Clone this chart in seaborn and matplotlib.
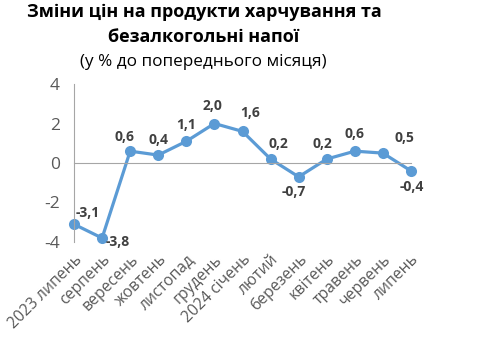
import matplotlib
matplotlib.use("Agg")
import matplotlib.pyplot as plt
import pandas as pd
import seaborn as sns

months = ['2023 липень', 'серпень', 'вересень', 'жовтень', 'листопад', 'грудень',
          '2024 січень', 'лютий', 'березень', 'квітень', 'травень', 'червень', 'липень']
values = [-3.1, -3.8, 0.6, 0.4, 1.1, 2.0, 1.6, 0.2, -0.7, 0.2, 0.6, 0.5, -0.4]

# label offsets in pixels (dx, dy), like excel put them
offsets = [(14, 11), (16, -4), (-6, 14), (0, 15), (0, 16), (-2, 18), (8, 18),
           (8, 15), (-5, -15), (-4, 15), (0, 17), (22, 15), (1, -16)]

df = pd.DataFrame({'month': months, 'value': values})
df['pos'] = range(len(df))

sns.set_style("white")
plt.rcParams['font.family'] = ['Open Sans', 'DejaVu Sans']

blue = '#5B9BD5'
grey = '#595959'

fig = plt.figure(figsize=(4.8, 3.53), dpi=100)
ax = fig.add_axes([74 / 480, 1 - 242 / 353, (411 - 74) / 480, (242 - 84) / 353])

sns.lineplot(data=df, x='pos', y='value', ax=ax, color=blue, linewidth=2.3,
             marker='o', markersize=8, markeredgewidth=0, clip_on=False)

for i, v in enumerate(values):
    dx, dy = offsets[i]
    ax.annotate(f'{v:.1f}'.replace('.', ','), (i, v), xytext=(dx * 0.72, dy * 0.72),
                textcoords='offset points', ha='center', va='center',
                fontsize=10, fontweight='bold', color='#404040')

ax.set_xlim(0, len(months) - 1)
ax.set_ylim(-4, 4)
ax.set_yticks([-4, -2, 0, 2, 4])
ax.set_yticklabels(['-4', '-2', '0', '2', '4'])
ax.set_xticks(range(len(months)))
ax.set_xticklabels([])
ax.set_xlabel('')
ax.set_ylabel('')

for s in ['top', 'right']:
    ax.spines[s].set_visible(False)
ax.spines['bottom'].set_position(('data', 0))
ax.spines['bottom'].set_color('#A6A6A6')
ax.spines['left'].set_color('#A6A6A6')
ax.tick_params(axis='x', direction='out', length=5, color='#A6A6A6', width=1)
ax.tick_params(axis='y', direction='out', length=5, color='#A6A6A6', width=1,
               labelsize=12.5, labelcolor=grey, pad=5)

# category labels sit at the bottom of the plot area
for i, m in enumerate(months):
    ax.annotate(m, (i, -4), xytext=(4, -11), textcoords='offset points',
                rotation=45, ha='right', va='center', rotation_mode='anchor',
                fontsize=11.3, color=grey, annotation_clip=False)

fig.text(0.425, 1 - 12 / 353, 'Зміни цін на продукти харчування та', ha='center', va='center',
         fontsize=13, fontweight='bold', color='black')
fig.text(0.425, 1 - 37 / 353, 'безалкогольні напої', ha='center', va='center',
         fontsize=13, fontweight='bold', color='black')
fig.text(0.423, 1 - 62 / 353, '(у % до попереднього місяця)', ha='center', va='center',
         fontsize=12.3, color='black')

plt.savefig('out.png', dpi=100)
